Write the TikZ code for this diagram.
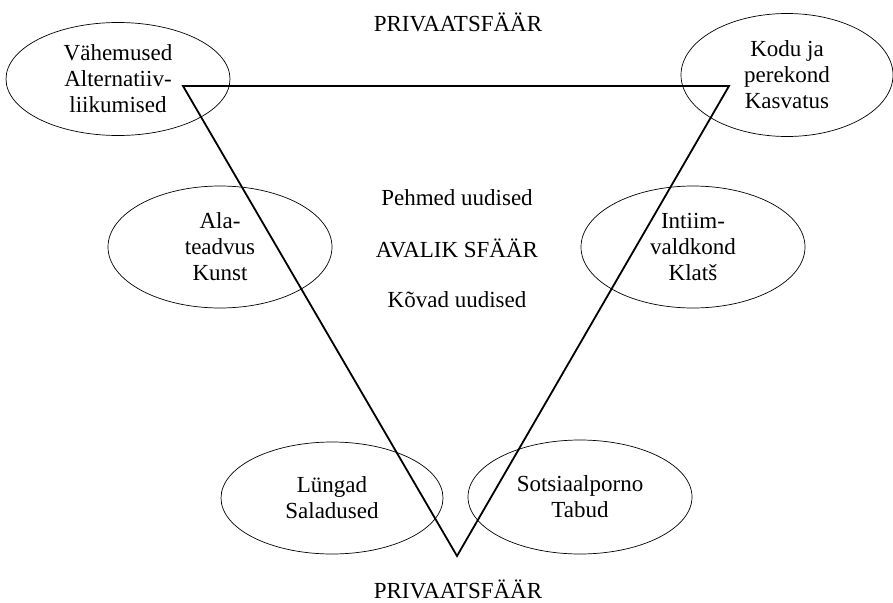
\documentclass[tikz,border=0pt]{standalone}
\usepackage{fontspec}
\setmainfont{Liberation Serif}
\usetikzlibrary{shapes.geometric}

\begin{document}
\begin{tikzpicture}[x=1pt,y=-1pt,font=\fontsize{23}{26}\selectfont]
                        \tikzstyle{bubble}=[ellipse, draw, line width=0.7pt, inner sep=0pt, align=center]
                        \tikzstyle{side}=[line width=1.8pt, line join=miter]
                        \useasboundingbox (0,0) rectangle (893,602);
                        % the triangle
                        \coordinate (tl) at (183,86);
                        \coordinate (tr) at (729,86);
                        \coordinate (bot) at (457,556);
                        \draw[side] (tl) -- (tr) -- (bot) -- cycle;
                        % the six fields
                        \node[bubble, minimum width=224pt, minimum height=113pt] (vah) at (118,79)
                            {V\"ahemused\\Alternatiiv-\\liikumised};
                        \node[bubble, minimum width=212pt, minimum height=123pt] (kodu) at (787,75)
                            {Kodu ja\\perekond\\Kasvatus};
                        \node[bubble, minimum width=224pt, minimum height=122pt] (ala) at (220,247)
                            {Ala-\\teadvus\\Kunst};
                        \node[bubble, minimum width=224pt, minimum height=122pt] (intiim) at (693,247)
                            {Intiim-\\valdkond\\Klat\v{s}};
                        \node[bubble, minimum width=222pt, minimum height=112pt] (lung) at (332,498)
                            {L\"ungad\\Saladused};
                        \node[bubble, minimum width=224pt, minimum height=114pt] (sots) at (580,497)
                            {Sotsiaalporno\\Tabud};
                        % labels
                        \node[anchor=base] (privtop) at (458,32) {PRIVAATSF\"A\"AR};
                        \node[anchor=base] (pehmed) at (457,205) {Pehmed uudised};
                        \node[anchor=base] (avalik) at (457,257) {AVALIK SF\"A\"AR};
                        \node[anchor=base] (kovad) at (457,307) {K\~ovad uudised};
                        \node[anchor=base, inner sep=0pt] (privbot) at (458,598) {PRIVAATSF\"A\"AR};
                    \end{tikzpicture}
\end{document}
